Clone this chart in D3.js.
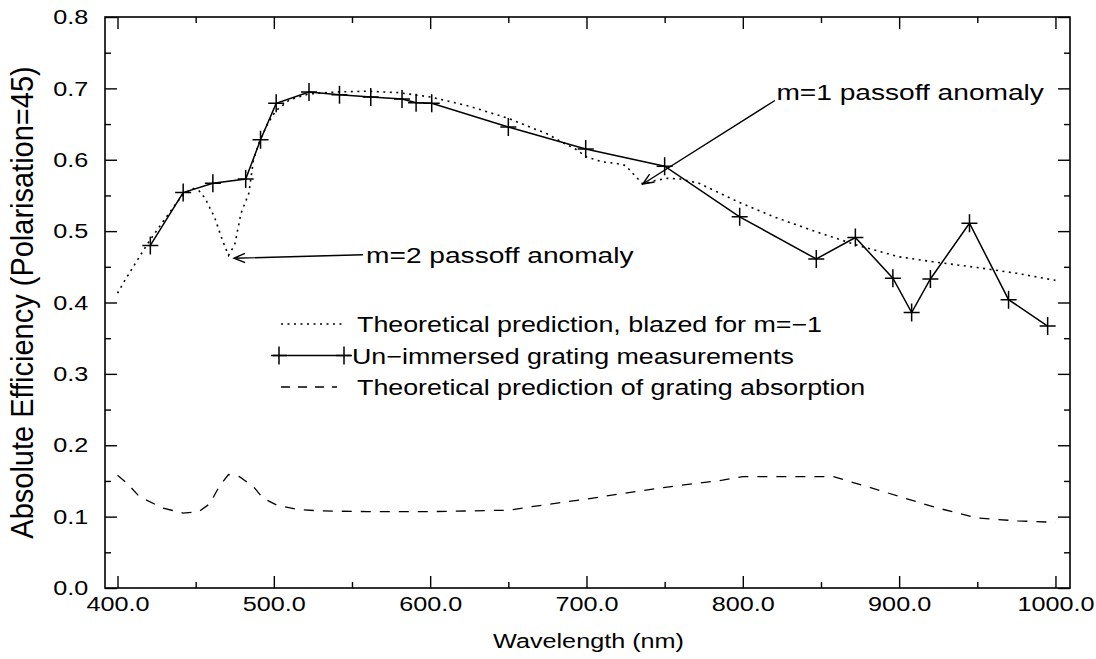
<!DOCTYPE html>
<html>
<head>
<meta charset="utf-8">
<script src="https://cdn.jsdelivr.net/npm/d3@7"></script>
<style>
  body { margin: 0; background: #fff; }
  text { font-family: "Liberation Sans", Arial, sans-serif; fill: #000; }
</style>
</head>
<body>
<div id="chart"></div>
<script>
// measured points (plus markers)
var measX = [421, 442, 461, 482, 491.5, 501.5, 522.5, 542, 562, 582, 591, 601, 650, 699.5, 750, 798, 847, 872, 896, 908, 920, 945, 970, 995];
var measY = [0.480, 0.554, 0.567, 0.573, 0.628, 0.679, 0.695, 0.691, 0.688, 0.685, 0.680, 0.679, 0.646, 0.615, 0.591, 0.520, 0.461, 0.491, 0.434, 0.386, 0.433, 0.511, 0.404, 0.367];

// theoretical efficiency (dotted)
var theoX = [400, 405, 412, 420, 430, 441, 448, 452, 456, 462, 467, 471, 475, 479, 484, 487, 491, 496, 501, 510, 522, 540, 560, 580, 600, 625, 650, 675, 685, 693, 700, 710, 719, 725, 730, 736, 744, 752, 760, 772, 797, 820, 847, 875, 900, 925, 950, 975, 1000];
var theoY = [0.413, 0.432, 0.457, 0.485, 0.516, 0.549, 0.560, 0.557, 0.546, 0.520, 0.488, 0.466, 0.481, 0.525, 0.553, 0.600, 0.627, 0.650, 0.668, 0.684, 0.692, 0.695, 0.696, 0.694, 0.688, 0.675, 0.658, 0.636, 0.624, 0.615, 0.604, 0.597, 0.595, 0.592, 0.580, 0.566, 0.571, 0.574, 0.573, 0.567, 0.541, 0.520, 0.499, 0.479, 0.464, 0.456, 0.449, 0.441, 0.431];

// theoretical absorption (dashed)
var absX = [400, 406, 414, 429, 442, 452, 459, 465, 471, 478, 487, 493, 502, 515, 530, 560, 600, 650, 665, 698, 728, 757, 787, 800, 858, 881, 902, 923, 950, 976, 1000];
var absY = [0.158, 0.147, 0.128, 0.112, 0.105, 0.107, 0.118, 0.142, 0.159, 0.156, 0.142, 0.126, 0.116, 0.110, 0.108, 0.107, 0.107, 0.109, 0.114, 0.124, 0.134, 0.143, 0.151, 0.156, 0.156, 0.141, 0.127, 0.113, 0.098, 0.094, 0.092];

var xMajor = [400, 500, 600, 700, 800, 900, 1000];
var xMinor = [450, 550, 650, 750, 850, 950];
var yMajor = [0.0, 0.1, 0.2, 0.3, 0.4, 0.5, 0.6, 0.7, 0.8];
var yMinor = [0.05, 0.15, 0.25, 0.35, 0.45, 0.55, 0.65, 0.75];

var legendLabels = ['Theoretical prediction, blazed for m=\u22121', 'Un\u2212immersed grating measurements', 'Theoretical prediction of grating absorption'];

// annotations: text start, arrow start, arrow tip (data coords)
var notes = [
  {label: 'm=1 passoff anomaly', tx: 821.5, ty: 0.684, fx: 820.5, fy: 0.683, px: 736, py: 0.566},
  {label: 'm=2 passoff anomaly', tx: 559, ty: 0.455, fx: 557, fy: 0.467, px: 474.5, py: 0.462}
];

var margin = {top: 17, left: 105, right: 26, bottom: 71};
var W = 1096, H = 659;
var width = W - margin.left - margin.right;
var height = H - margin.top - margin.bottom;
var sx = 1.22; // the original type is set wide

var svg = d3.select('#chart').append('svg')
  .attr('width', W).attr('height', H)
  .append('g')
  .attr('transform', 'translate(' + margin.left + ',' + margin.top + ')');

var x = d3.scaleLinear().domain([392, 1009.3]).range([0, width]);
var y = d3.scaleLinear().domain([0, 0.8]).range([height, 0]);

// axes, ticks pointing inwards
function tickStyle(g){
  g.select('.domain').remove();
  g.selectAll('line').attr('stroke', '#000').attr('stroke-width', 1.4);
}
function tickText(g){
  g.selectAll('text').attr('font-size', 21).attr('transform', 'scale(1.2,1)')
    .style('font-family', '"Liberation Sans", Arial, sans-serif');
}

svg.append('g').attr('transform', 'translate(0,' + height + ')')
  .call(d3.axisBottom(x).tickValues(xMajor).tickSize(-12).tickSizeOuter(0).tickPadding(8).tickFormat(d3.format('.1f')))
  .call(tickStyle)
  .call(tickText);
svg.append('g').attr('transform', 'translate(0,' + height + ')')
  .call(d3.axisBottom(x).tickValues(xMinor).tickSize(-6).tickSizeOuter(0).tickFormat(''))
  .call(tickStyle);
svg.append('g')
  .call(d3.axisTop(x).tickValues(xMajor).tickSize(-12).tickSizeOuter(0).tickFormat(''))
  .call(tickStyle);
svg.append('g')
  .call(d3.axisTop(x).tickValues(xMinor).tickSize(-6).tickSizeOuter(0).tickFormat(''))
  .call(tickStyle);

svg.append('g')
  .call(d3.axisLeft(y).tickValues(yMajor).tickSize(-12).tickSizeOuter(0).tickPadding(14).tickFormat(d3.format('.1f')))
  .call(tickStyle)
  .call(tickText);
svg.append('g')
  .call(d3.axisLeft(y).tickValues(yMinor).tickSize(-6).tickSizeOuter(0).tickFormat(''))
  .call(tickStyle);
svg.append('g').attr('transform', 'translate(' + width + ',0)')
  .call(d3.axisRight(y).tickValues(yMajor).tickSize(-12).tickSizeOuter(0).tickFormat(''))
  .call(tickStyle);
svg.append('g').attr('transform', 'translate(' + width + ',0)')
  .call(d3.axisRight(y).tickValues(yMinor).tickSize(-6).tickSizeOuter(0).tickFormat(''))
  .call(tickStyle);

svg.append('rect')
  .attr('width', width).attr('height', height)
  .attr('fill', 'none').attr('stroke', '#000').attr('stroke-width', 1.6);

// axis titles
svg.append('text')
  .attr('transform', 'translate(' + (width / 2 + 1) + ',' + (height + 60) + ') scale(1.2,1)')
  .attr('text-anchor', 'middle').attr('font-size', 21)
  .text('Wavelength (nm)');
svg.append('text')
  .attr('transform', 'translate(' + (-72) + ',' + (height / 2) + ') scale(1.05,1) rotate(-90)')
  .attr('text-anchor', 'middle').attr('font-size', 29)
  .text('Absolute Efficiency (Polarisation=45)');

// curves
var line = d3.line().x(function(d){ return x(d[0]); }).y(function(d){ return y(d[1]); });

svg.append('path')
  .datum(theoX.map(function(v, i){ return [v, theoY[i]]; }))
  .attr('d', line).attr('fill', 'none').attr('stroke', '#000')
  .attr('stroke-width', 1.6).attr('stroke-dasharray', '2,4.5');

svg.append('path')
  .datum(absX.map(function(v, i){ return [v, absY[i]]; }))
  .attr('d', line).attr('fill', 'none').attr('stroke', '#000')
  .attr('stroke-width', 1.3).attr('stroke-dasharray', '10,9');

var meas = measX.map(function(v, i){ return [v, measY[i]]; });
svg.append('path')
  .datum(meas)
  .attr('d', line).attr('fill', 'none').attr('stroke', '#000').attr('stroke-width', 1.5);

function plus(g, cx, cy){
  g.append('path')
    .attr('d', 'M' + (cx - 8) + ',' + cy + 'H' + (cx + 8) + 'M' + cx + ',' + (cy - 9) + 'V' + (cy + 9))
    .attr('stroke', '#000').attr('stroke-width', 1.5).attr('fill', 'none');
}
meas.forEach(function(d){ plus(svg, x(d[0]), y(d[1])); });

// annotations with open arrow heads
notes.forEach(function(n){
  var x0 = x(n.fx), y0 = y(n.fy), x1 = x(n.px), y1 = y(n.py);
  var a = Math.atan2(y1 - y0, x1 - x0);
  var L = 12, s = 0.4;
  svg.append('path')
    .attr('d', 'M' + x0 + ',' + y0 + 'L' + x1 + ',' + y1 +
      'M' + (x1 - L * Math.cos(a - s)) + ',' + (y1 - L * Math.sin(a - s)) + 'L' + x1 + ',' + y1 +
      'L' + (x1 - L * Math.cos(a + s)) + ',' + (y1 - L * Math.sin(a + s)))
    .attr('stroke', '#000').attr('stroke-width', 1.4).attr('fill', 'none');
  svg.append('text')
    .attr('transform', 'translate(' + x(n.tx) + ',' + y(n.ty) + ') scale(1.25,1)')
    .attr('font-size', 22.5)
    .text(n.label);
});

// legend
var lg = svg.append('g').attr('transform', 'translate(' + (176) + ',' + (307) + ')');
var rowH = 31.5;
lg.append('line').attr('x1', 0).attr('x2', 64).attr('y1', 0).attr('y2', 0)
  .attr('stroke', '#000').attr('stroke-width', 1.6).attr('stroke-dasharray', '2,4.5');
lg.append('line').attr('x1', -8).attr('x2', 70).attr('y1', rowH).attr('y2', rowH)
  .attr('stroke', '#000').attr('stroke-width', 1.5);
plus(lg, -2, rowH);
plus(lg, 63, rowH);
lg.append('line').attr('x1', 0).attr('x2', 56).attr('y1', 2 * rowH).attr('y2', 2 * rowH)
  .attr('stroke', '#000').attr('stroke-width', 1.3).attr('stroke-dasharray', '9,8');
legendLabels.forEach(function(t, i){
  lg.append('text')
    .attr('transform', 'translate(' + (i == 1 ? 71 : 76) + ',' + (i * rowH + 8) + ') scale(' + sx + ',1)')
    .attr('font-size', 22)
    .text(t);
});
</script>
</body>
</html>
